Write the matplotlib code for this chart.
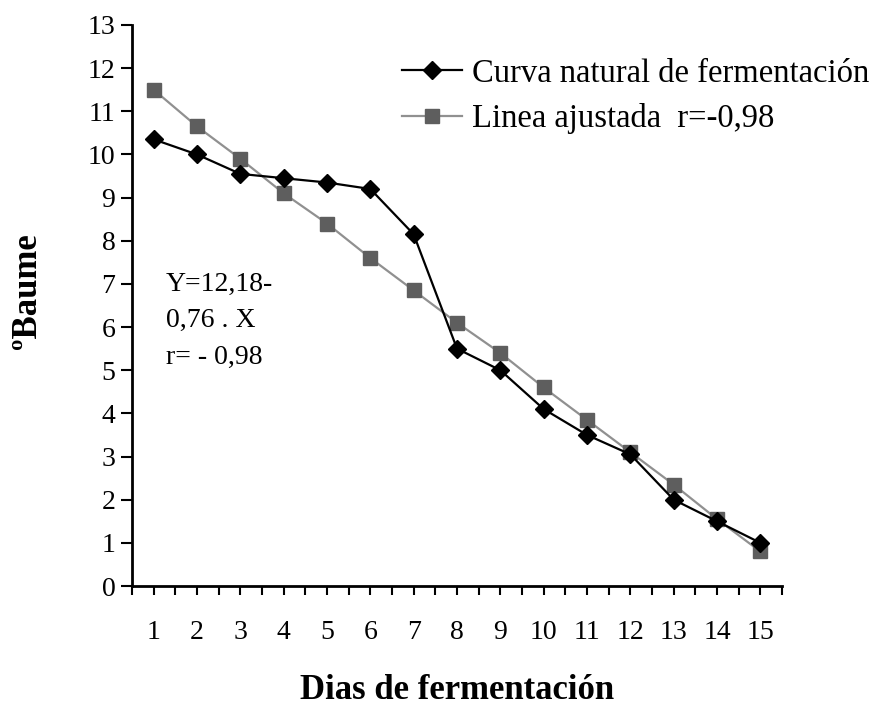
import numpy as np
import matplotlib.pyplot as plt
from matplotlib.ticker import MultipleLocator

dias = list(range(1, 16))
curva_natural = [10.35, 10.0, 9.55, 9.45, 9.35, 9.2, 8.15, 5.5, 5.0, 4.1, 3.5, 3.05, 2.0, 1.5, 1.0]
linea_ajustada = [11.5, 10.65, 9.9, 9.1, 8.4, 7.6, 6.85, 6.1, 5.4, 4.6, 3.85, 3.1, 2.35, 1.55, 0.8]

lbl_curva = "Curva natural de fermentación"
lbl_ajuste = "Linea ajustada  r=-0,98"
eq_text = "Y=12,18-\n0,76 . X\nr= - 0,98"

plt.rcParams['font.family'] = ['Liberation Serif', 'DejaVu Serif']

fig = plt.figure(figsize=(8.85, 7.09), dpi=100)
ax = fig.add_axes([132 / 885, 1 - 586 / 709, 650 / 885, 561 / 709])

ax.plot(dias, curva_natural, color="black", lw=1.6, marker="D", ms=9,
        mfc="black", mec="black", label=lbl_curva, zorder=3)
ax.plot(dias, linea_ajustada, color="#909090", lw=1.6, marker="s", ms=10,
        mfc="#5e5e5e", mec="#5e5e5e", label=lbl_ajuste, zorder=2)

ax.set_xlim(0.5, 15.5)
ax.set_ylim(0, 13)
ax.set_xticks(dias)
ax.xaxis.set_minor_locator(MultipleLocator(0.5))
ax.yaxis.set_major_locator(MultipleLocator(1))
ax.tick_params(axis="x", which="both", direction="out", length=6.5, width=1.5)
ax.tick_params(axis="x", which="major", pad=18, labelsize=20)
ax.tick_params(axis="y", direction="out", length=8, width=1.5, labelsize=20, pad=4)

for s in ["top", "right"]:
    ax.spines[s].set_visible(False)
for s in ["left", "bottom"]:
    ax.spines[s].set_linewidth(2)

ax.set_xlabel("Dias de fermentación", fontsize=25, fontweight="bold", labelpad=21)
ax.set_ylabel("ºBaume", fontsize=25, fontweight="bold")
ax.yaxis.set_label_coords(-0.135, 0.525)

ax.text(0.052, 0.56, eq_text, transform=ax.transAxes, fontsize=20,
        va="top", ha="left", linespacing=1.6)

fig.legend(loc="upper left", bbox_to_anchor=(402 / 885, 1 - 58 / 709),
           frameon=False, fontsize=23.5, handlelength=1.85, handletextpad=0.28,
           labelspacing=0.45, borderpad=0, borderaxespad=0)

fig.savefig("out.png", dpi=100)
